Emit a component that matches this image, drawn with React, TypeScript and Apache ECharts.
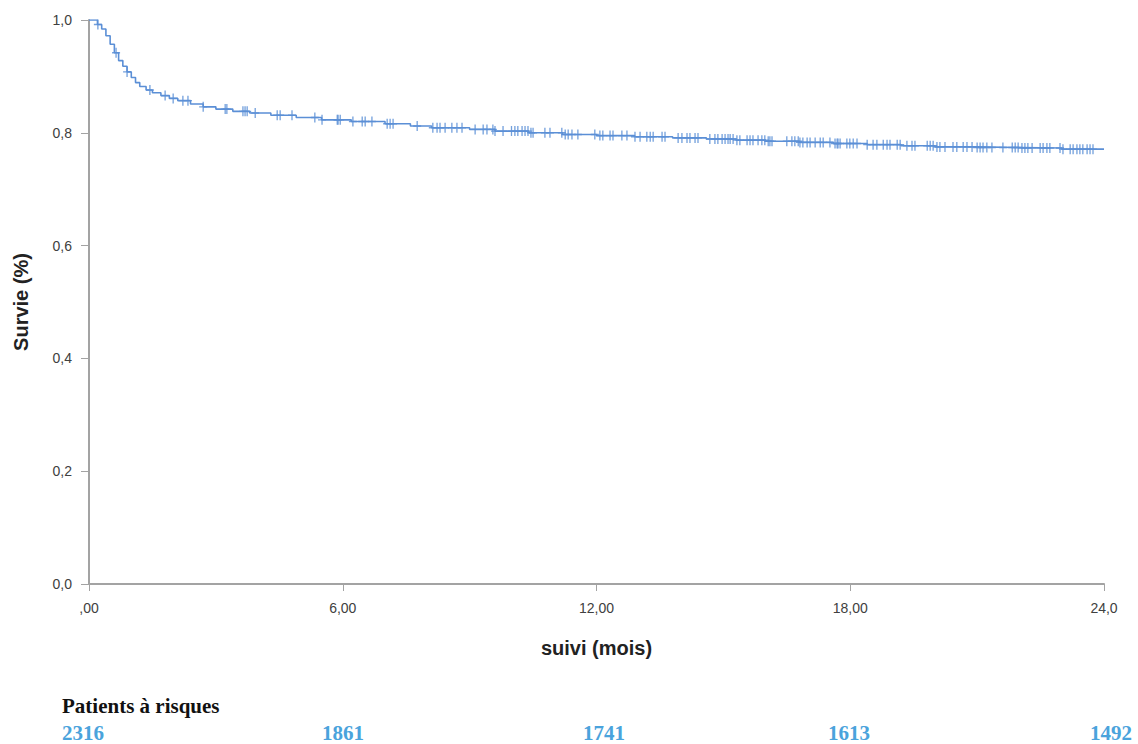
import React, { useEffect, useRef } from "react";
import * as echarts from "echarts";

// Kaplan-Meier step curve (months, survival)
const kmTimes = [0, 0.12, 0.2, 0.3, 0.4, 0.5, 0.6, 0.7, 0.8, 0.9, 1.0, 1.1, 1.2, 1.35, 1.5, 1.7, 1.9, 2.1, 2.4, 2.7, 3.0, 3.4, 3.8, 4.3, 4.9, 5.5, 6.2, 7.0, 7.6, 8.1, 9.0, 9.6, 10.4, 11.2, 12.0, 12.9, 13.8, 14.6, 15.3, 16.0, 16.8, 17.6, 18.4, 19.2, 20.0, 21.0, 22.0, 23.0, 24.0];
const kmSurvival = [1.0, 1.0, 0.992, 0.984, 0.972, 0.957, 0.942, 0.928, 0.918, 0.908, 0.898, 0.889, 0.882, 0.876, 0.871, 0.866, 0.861, 0.857, 0.851, 0.846, 0.842, 0.838, 0.835, 0.831, 0.827, 0.823, 0.82, 0.816, 0.812, 0.809, 0.806, 0.803, 0.8, 0.797, 0.795, 0.793, 0.791, 0.789, 0.787, 0.785, 0.783, 0.781, 0.779, 0.777, 0.775, 0.774, 0.773, 0.771, 0.77];

// Censored observation times (months)
const censorTimes = [0.21, 0.64, 0.9, 1.44, 1.8, 1.99, 2.22, 2.34, 2.7, 3.22, 3.26, 3.64, 3.69, 3.74, 3.93, 4.45, 4.52, 4.8, 5.34, 5.51, 5.87, 5.89, 5.94, 6.24, 6.46, 6.53, 6.69, 7.05, 7.12, 7.19, 7.76, 8.13, 8.23, 8.3, 8.42, 8.58, 8.7, 8.82, 9.13, 9.32, 9.41, 9.55, 9.6, 9.79, 9.99, 10.07, 10.14, 10.24, 10.31, 10.38, 10.45, 10.5, 10.78, 10.9, 11.18, 11.26, 11.33, 11.42, 11.56, 11.96, 12.08, 12.15, 12.32, 12.39, 12.6, 12.72, 12.91, 13.03, 13.19, 13.27, 13.34, 13.55, 13.62, 13.93, 14.02, 14.14, 14.21, 14.33, 14.4, 14.68, 14.8, 14.87, 14.97, 15.04, 15.11, 15.16, 15.23, 15.32, 15.39, 15.56, 15.63, 15.7, 15.82, 15.91, 15.98, 16.06, 16.1, 16.15, 16.5, 16.62, 16.69, 16.77, 16.81, 16.88, 16.98, 17.05, 17.17, 17.29, 17.36, 17.52, 17.64, 17.69, 17.71, 17.76, 17.92, 17.99, 18.07, 18.16, 18.4, 18.54, 18.63, 18.78, 18.87, 18.94, 19.11, 19.18, 19.34, 19.46, 19.53, 19.82, 19.89, 19.96, 20.05, 20.12, 20.24, 20.43, 20.52, 20.67, 20.76, 20.88, 21.0, 21.07, 21.14, 21.23, 21.35, 21.61, 21.83, 21.9, 21.97, 22.06, 22.13, 22.2, 22.3, 22.49, 22.56, 22.65, 22.72, 22.96, 23.03, 23.2, 23.27, 23.36, 23.43, 23.5, 23.6, 23.67, 23.74];

const xTicks = [0, 6, 12, 18, 24];
const xTickLabels = [",00", "6,00", "12,00", "18,00", "24,0"];

const riskTitle = "Patients à risques";
const riskCounts = ["2316", "1861", "1741", "1613", "1492"];

function survivalAt(t: number): number {
  let v = kmSurvival[0];
  for (let i = 0; i < kmTimes.length; i++) {
    if (kmTimes[i] <= t) v = kmSurvival[i];
    else break;
  }
  return v;
}

const LINE_COLOR = "#5b8fd6";
const AXIS_COLOR = "#a3a3a3";
const LABEL_COLOR = "#404040";
const SANS = "'Liberation Sans', Arial, sans-serif";
const SERIF = "'Liberation Serif', 'Times New Roman', serif";

export default function App() {
  const ref = useRef<HTMLDivElement>(null);

  useEffect(() => {
    if (!ref.current) return;
    const chart = echarts.init(ref.current, undefined, { renderer: "svg" });

    const riskX = [62, 322, 583, 828, 1090];

    chart.setOption({
      animation: false,
      backgroundColor: "#fff",
      grid: { left: 89, right: 34, top: 20, bottom: 160 },
      xAxis: {
        type: "value",
        min: 0,
        max: 24,
        interval: 6,
        name: "suivi (mois)",
        nameLocation: "middle",
        nameGap: 54,
        nameTextStyle: { fontFamily: SANS, fontSize: 20, fontWeight: "bold", color: "#222" },
        axisLine: { show: true, lineStyle: { color: AXIS_COLOR, width: 2 } },
        axisTick: { show: true, length: 7, lineStyle: { color: AXIS_COLOR, width: 1 } },
        axisLabel: {
          margin: 17,
          fontFamily: SANS,
          fontSize: 14,
          color: LABEL_COLOR,
          formatter: (v: number) => {
            const i = xTicks.indexOf(v);
            return i >= 0 ? xTickLabels[i] : "";
          },
        },
        splitLine: { show: false },
      },
      yAxis: {
        type: "value",
        min: 0,
        max: 1,
        interval: 0.2,
        name: "Survie (%)",
        nameLocation: "middle",
        nameGap: 58,
        nameTextStyle: { fontFamily: SANS, fontSize: 20, fontWeight: "bold", color: "#222" },
        axisLine: { show: true, lineStyle: { color: AXIS_COLOR, width: 2 } },
        axisTick: { show: true, length: 8, lineStyle: { color: AXIS_COLOR, width: 1 } },
        axisLabel: {
          margin: 17,
          fontFamily: SANS,
          fontSize: 14,
          color: LABEL_COLOR,
          formatter: (v: number) => v.toFixed(1).replace(".", ","),
        },
        splitLine: { show: false },
      },
      series: [
        {
          type: "line",
          step: "end",
          showSymbol: false,
          symbol: "none",
          data: kmTimes.map((t, i) => [t, kmSurvival[i]]),
          lineStyle: { color: LINE_COLOR, width: 1.6 },
          silent: true,
        },
        {
          type: "scatter",
          data: censorTimes.map((t) => [t, survivalAt(t)]),
          symbol: "path://M3.6,0h1.4v10h-1.4zM0,4.3h8.6v1.4h-8.6z",
          symbolSize: [8, 10],
          itemStyle: { color: LINE_COLOR, opacity: 0.85 },
          silent: true,
        },
      ],
      graphic: [
        {
          type: "text",
          left: 62,
          top: 695,
          style: {
            text: riskTitle,
            font: `bold 21px ${SERIF}`,
            fill: "#111",
          },
        },
        ...riskCounts.map((c, i) => ({
          type: "text",
          left: riskX[i],
          top: 722,
          style: {
            text: c,
            font: `bold 21px ${SERIF}`,
            fill: "#4aa3dc",
          },
        })),
      ],
    });

    return () => chart.dispose();
  }, []);

  return (
    <div
      ref={ref}
      style={{ position: "fixed", left: 0, top: 0, width: 1138, height: 744, background: "#fff" }}
    />
  );
}
